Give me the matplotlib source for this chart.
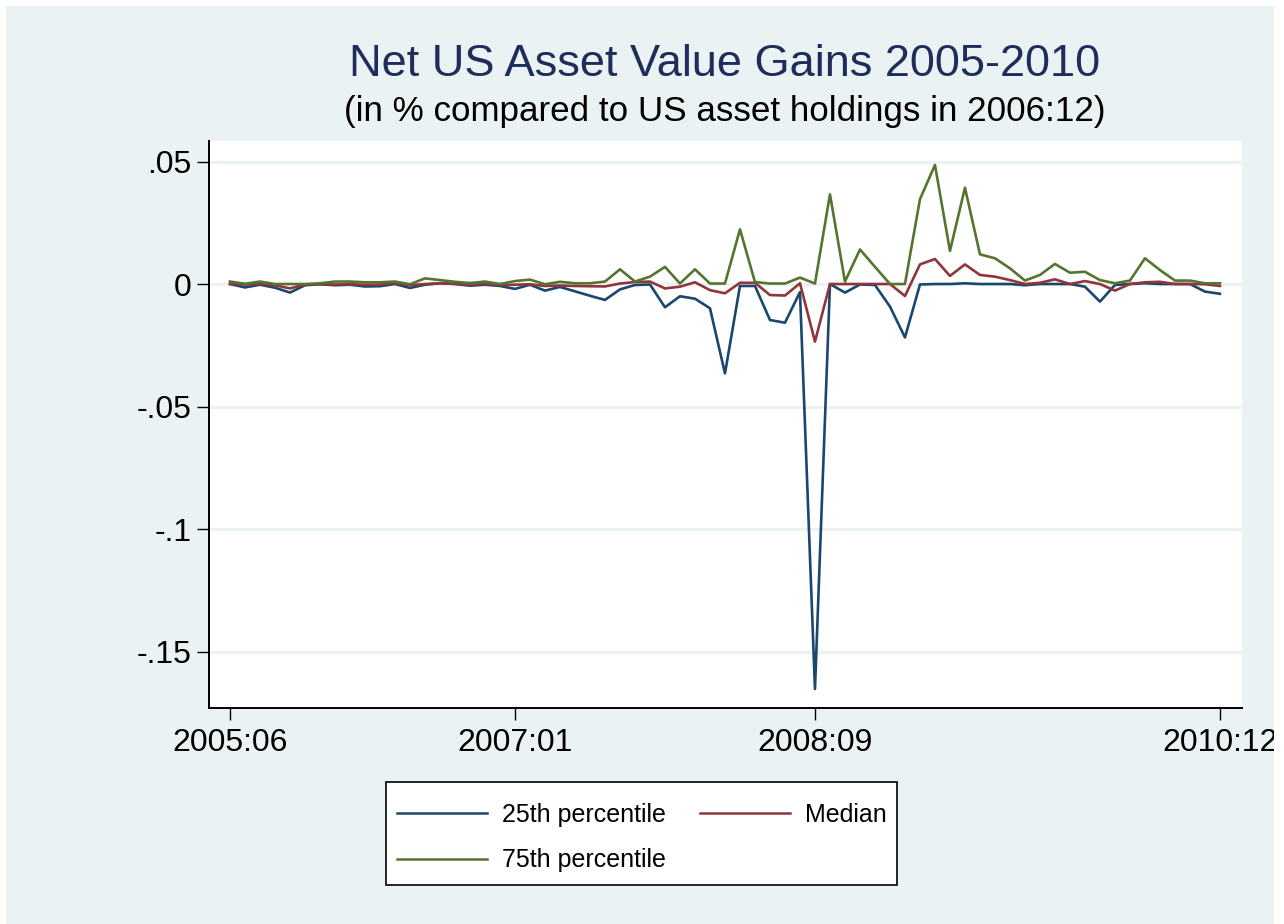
import numpy as np
import matplotlib
matplotlib.use("Agg")
import matplotlib.pyplot as plt
from matplotlib.patches import Rectangle

plt.rcParams['font.family'] = ['Liberation Sans', 'DejaVu Sans']

# monthly data 2005:06 .. 2010:12
months = [f"{y}:{m:02d}" for y in range(2005, 2011) for m in range(1, 13)][5:]
tick_labels = ["2005:06", "2007:01", "2008:09", "2010:12"]

p25 = [0.0, -0.0014, -0.0003, -0.0015, -0.0035, -0.0005, -0.0001, -0.0005, -0.0003, -0.001,
       -0.0009, 0.0, -0.0016, -0.0003, 0.0003, 0.0, -0.0007, -0.0003, -0.0008, -0.002,
       -0.0003, -0.0027, -0.0012, -0.003, -0.0048, -0.0065, -0.0022, -0.0004, -0.0002, -0.0095,
       -0.005, -0.006, -0.0099, -0.0365, -0.0008, -0.0008, -0.0147, -0.0158, -0.0033, -0.1653,
       0.0, -0.0035, -0.0002, -0.0004, -0.0092, -0.0218, -0.0002, 0.0, 0.0, 0.0003,
       0.0, 0.0, 0.0, -0.0005, 0.0, 0.0, 0.0, -0.0011, -0.0072, -0.0004,
       0.0, 0.0003, 0.0, 0.0, 0.0, -0.0031, -0.004]
median = [0.0, -0.0002, 0.0, -0.0005, -0.0018, -0.0002, -0.0001, -0.0002, -0.0001, -0.0003,
          -0.0002, 0.0004, -0.0005, 0.0, 0.0003, 0.0001, -0.0003, 0.0, -0.0004, -0.0003,
          -0.0001, -0.0008, -0.0006, -0.0008, -0.0009, -0.001, 0.0002, 0.0008, 0.001, -0.0018,
          -0.0011, 0.0007, -0.0025, -0.0038, 0.0005, 0.0005, -0.0045, -0.0047, 0.0003, -0.0235,
          0.0, 0.0, 0.0, 0.0, 0.0, -0.0049, 0.008, 0.0102, 0.0033, 0.008,
          0.0037, 0.003, 0.0016, 0.0, 0.0005, 0.0019, 0.0, 0.0012, 0.0, -0.0027,
          0.0, 0.0007, 0.0009, 0.0, 0.0, -0.0001, -0.0008]
p75 = [0.001, 0.0001, 0.001, 0.0, 0.0, 0.0, 0.0003, 0.001, 0.001, 0.0007,
       0.0007, 0.001, -0.0001, 0.0023, 0.0016, 0.0009, 0.0004, 0.001, 0.0, 0.0012,
       0.0018, -0.0001, 0.0009, 0.0003, 0.0003, 0.001, 0.006, 0.001, 0.003, 0.007,
       0.0002, 0.006, 0.0002, 0.0002, 0.0223, 0.0008, 0.0002, 0.0002, 0.0026, 0.0002,
       0.0366, 0.001, 0.0141, 0.007, 0.0, 0.0, 0.0346, 0.0486, 0.0135, 0.0393,
       0.0121, 0.0105, 0.0064, 0.0014, 0.0037, 0.0082, 0.0046, 0.005, 0.0016, 0.0003,
       0.0014, 0.0105, 0.0057, 0.0014, 0.0014, 0.0003, 0.0003]

x = np.arange(len(months))
W, H = 1284, 924

fig = plt.figure(figsize=(W / 100, H / 100), dpi=100)
fig.patch.set_facecolor('white')
bg = Rectangle((6 / W, 0), 1268 / W, 918 / H, transform=fig.transFigure,
               facecolor='#eaf2f3', edgecolor='none', zorder=-10)
fig.patches.append(bg)

ax = fig.add_axes([209 / W, 1 - 708 / H, 1033 / W, 567 / H])
ax.set_facecolor('white')

ax.plot(x, p25, color='#1a476f', lw=1.9, label='25th percentile')
ax.plot(x, median, color='#90353b', lw=1.9, label='Median')
ax.plot(x, p75, color='#55752f', lw=1.9, label='75th percentile')

ax.set_xlim(-1.4, 67.47)
ax.set_ylim(-0.17306, 0.05837)

yt = [0.05, 0, -0.05, -0.1, -0.15]
ax.set_yticks(yt)
ax.set_yticklabels(['.05', '0', '-.05', '-.1', '-.15'])
ax.set_xticks([months.index(t) for t in tick_labels])
ax.set_xticklabels(tick_labels)
ax.yaxis.grid(True, color='#eaf2f3', lw=2.2)
ax.set_axisbelow(True)

for s in ['top', 'right']:
    ax.spines[s].set_visible(False)
for s in ['left', 'bottom']:
    ax.spines[s].set_linewidth(1.4)
ax.tick_params(axis='both', direction='out', length=8.6, width=1.0, labelsize=23, pad=4)
ax.tick_params(axis='x', pad=6)
for lbl in ax.get_xticklabels():
    lbl.set_clip_on(True)
    lbl.set_clip_path(bg)

fig.text(725 / W, 1 - 76 / H, 'Net US Asset Value Gains 2005-2010', ha='center',
         va='baseline', fontsize=32.5, color='#1e2d5a')
fig.text(725 / W, 1 - 121 / H, '(in % compared to US asset holdings in 2006:12)',
         ha='center', va='baseline', fontsize=25.2, color='black')

# legend frame drawn separately
frame = Rectangle((386 / W, 1 - 885 / H), 511 / W, 103 / H, transform=fig.transFigure,
                  facecolor='white', edgecolor='black', lw=1.2, zorder=1)
fig.patches.append(frame)

h, l = ax.get_legend_handles_labels()
leg = fig.legend([h[0], h[2], h[1]], [l[0], l[2], l[1]], ncol=2, fontsize=18,
                 loc='upper left', bbox_to_anchor=(397 / W, 1 - 803 / H),
                 frameon=False, handlelength=3.6, handletextpad=0.6,
                 columnspacing=1.36, borderpad=0, borderaxespad=0, labelspacing=0.85)
for ln in leg.get_lines():
    ln.set_linewidth(1.8)

fig.savefig('out.png', dpi=100, facecolor=fig.get_facecolor())
